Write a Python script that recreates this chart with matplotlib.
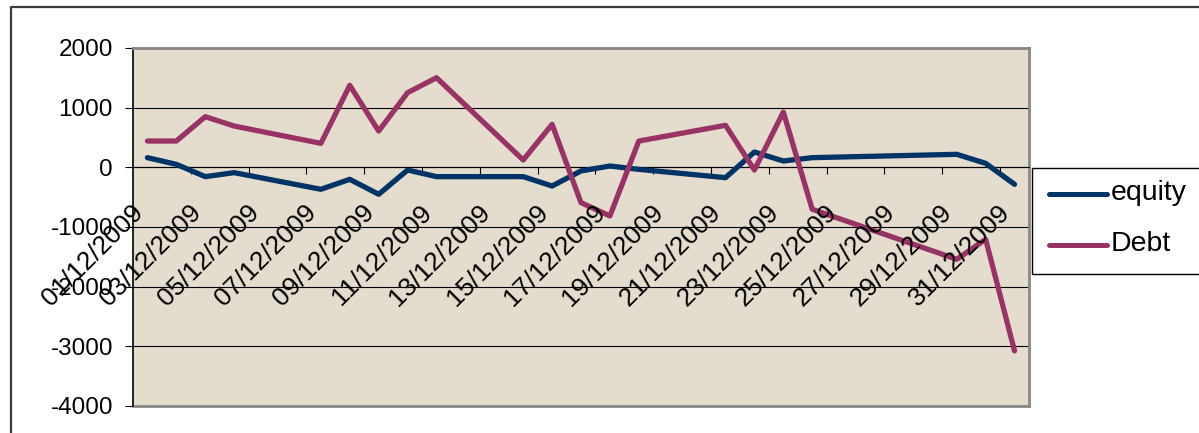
import pandas as pd
import matplotlib
matplotlib.use('Agg')
import matplotlib.pyplot as plt
import matplotlib.dates as mdates
from matplotlib.lines import Line2D
from matplotlib.patches import Rectangle

# Daten (Handelstage Dezember 2009)
dates = ['01/12/2009', '02/12/2009', '03/12/2009', '04/12/2009', '07/12/2009',
         '08/12/2009', '09/12/2009', '10/12/2009', '11/12/2009', '14/12/2009',
         '15/12/2009', '16/12/2009', '17/12/2009', '18/12/2009', '21/12/2009',
         '22/12/2009', '23/12/2009', '24/12/2009', '29/12/2009', '30/12/2009',
         '31/12/2009']
equity = [162, 50, -156, -89, -368, -201, -452, -45, -156, -156,
          -313, -60, 22, -34, -173, 257, 106, 162, 218, 67, -285]
debt = [441, 441, 849, 692, 402, 1374, 608, 1251, 1502, 123,
        720, -592, -815, 441, 704, -45, 927, -703, -1541, -1206, -3077]

tick_labels = ['01/12/2009', '03/12/2009', '05/12/2009', '07/12/2009',
               '09/12/2009', '11/12/2009', '13/12/2009', '15/12/2009',
               '17/12/2009', '19/12/2009', '21/12/2009', '23/12/2009',
               '25/12/2009', '27/12/2009', '29/12/2009', '31/12/2009']
y_ticks = [2000, 1000, 0, -1000, -2000, -3000, -4000]

plt.rcParams['font.family'] = ['Liberation Sans', 'DejaVu Sans']
FS = 17.5
W, H = 1199, 433

x = mdates.date2num(pd.to_datetime(dates, format='%d/%m/%Y'))
x_lab = mdates.date2num(pd.to_datetime(tick_labels, format='%d/%m/%Y'))
d0 = x[0]

fig = plt.figure(figsize=(W / 100, H / 100), dpi=100)
fig.patch.set_facecolor('white')
ax = fig.add_axes([133 / W, 1 - 406 / H, (1029 - 133) / W, (406 - 48) / H])
ax.set_facecolor('#E4DCCD')

ax.plot(x, equity, color='#003366', lw=3.8, solid_joinstyle='round',
        solid_capstyle='round', zorder=3)
ax.plot(x, debt, color='#993366', lw=3.8, solid_joinstyle='round',
        solid_capstyle='round', zorder=3)

ax.set_xlim(d0 - 0.5, d0 + 30.5)
ax.set_ylim(-4000, 2000)
ax.set_yticks(y_ticks)
ax.set_yticklabels([str(v) for v in y_ticks], fontsize=FS)
ax.yaxis.grid(True, color='black', lw=0.8)
ax.set_axisbelow(True)
ax.tick_params(axis='y', direction='out', length=5.8, width=0.8, pad=8.6,
               colors='black')

# X-Achse auf Höhe 0
ax.spines['bottom'].set_position(('data', 0))
ax.spines['bottom'].set_linewidth(0.8)
ax.set_xticks(x_lab[1:] - 0.5)
ax.set_xticklabels([])
ax.tick_params(axis='x', direction='out', length=5, width=0.8)
for xl, lab in zip(x_lab, tick_labels):
    ax.annotate(lab, xy=(xl - 0.5, 0), xytext=(-2, -33),
                textcoords='offset pixels', rotation=45,
                rotation_mode='anchor', ha='right', va='top', fontsize=19,
                zorder=4, annotation_clip=False)

for s in ['top', 'right']:
    ax.spines[s].set_color('#888888')
    ax.spines[s].set_linewidth(2)
ax.spines['left'].set_linewidth(1.2)
ax.plot([0, 1], [0, 0], transform=ax.transAxes, color='#888888', lw=2,
        clip_on=False)

# Rahmen des Diagrammbereichs
fig.add_artist(Line2D([11 / W, 11 / W, 1], [0, 1 - 7 / H, 1 - 7 / H],
                      transform=fig.transFigure, color='#3c3c3c', lw=1.6))

# Legende
fig.add_artist(Rectangle((1032 / W, 1 - 274 / H), (1215 - 1032) / W,
                         (274 - 168) / H, transform=fig.transFigure,
                         fill=False, edgecolor='black', lw=1))
for yy, col, lab in [(194, '#003366', 'equity'), (245, '#993366', 'Debt')]:
    fig.add_artist(Line2D([1049 / W, 1107 / W], [1 - yy / H, 1 - yy / H],
                          transform=fig.transFigure, color=col, lw=3.6,
                          solid_capstyle='round'))
    fig.text(1111 / W, 1 - (yy - 1) / H, lab, fontsize=20.5, va='center',
             ha='left')

fig.savefig('out.png', dpi=100)
